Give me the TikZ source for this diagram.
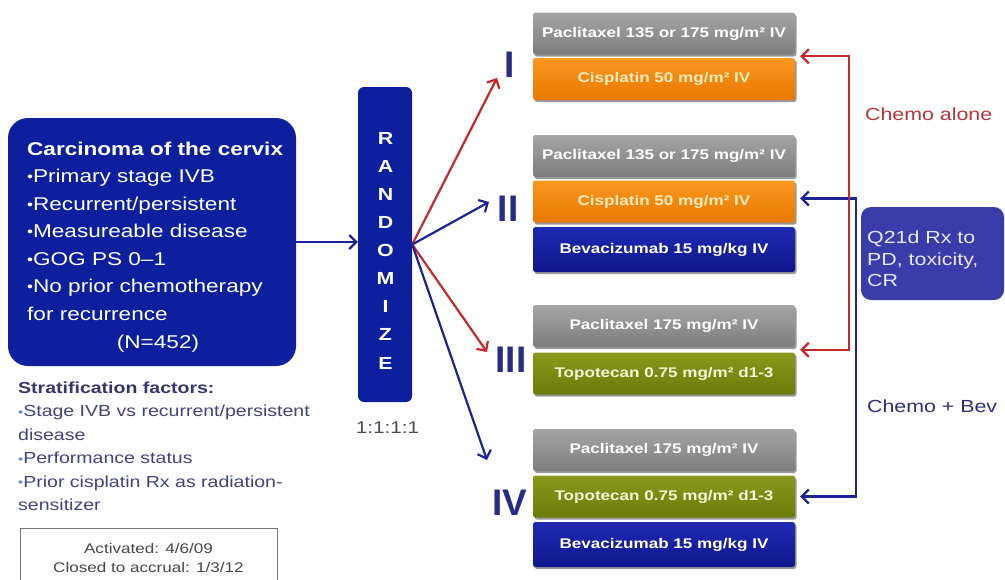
\documentclass[tikz,border=0pt]{standalone}
\usepackage{fontspec}
\setmainfont[FakeStretch=1.22]{Liberation Sans}
\newfontfamily\romfont{Liberation Sans}
\usetikzlibrary{arrows.meta,calc,shadows}
\definecolor{mainblue}{RGB}{14,31,158}
\definecolor{romnavy}{RGB}{40,44,130}
\definecolor{arrred}{RGB}{200,40,45}
\definecolor{arrblue}{RGB}{28,35,150}
\definecolor{qblue}{RGB}{58,60,170}
\definecolor{strattitle}{RGB}{52,54,110}
\definecolor{stratbody}{RGB}{64,68,125}
\definecolor{bulc}{RGB}{100,140,210}
\definecolor{ratiogray}{RGB}{75,75,90}
\definecolor{acttext}{RGB}{70,70,70}
\definecolor{actborder}{RGB}{120,120,120}
\definecolor{chemored}{RGB}{180,55,55}
\definecolor{chemoblue}{RGB}{46,49,112}
\definecolor{orangetext}{RGB}{255,236,190}
\definecolor{greentext}{RGB}{245,245,215}
\newcommand\mybul{\raisebox{0.05em}{\scalebox{0.75}{•}}}
\tikzset{
  drugbox/.style={minimum width=262pt, minimum height=42pt, inner sep=0pt,
    rounded corners=2.5pt, font=\fontsize{14}{16}\selectfont\bfseries,
    drop shadow={shadow xshift=1.5pt, shadow yshift=-2pt, opacity=0.4, fill=black}},
  graydrug/.style={drugbox, top color={rgb,255:red,165;green,165;blue,165}, bottom color={rgb,255:red,125;green,125;blue,125}, text=white},
  orangedrug/.style={drugbox, top color={rgb,255:red,250;green,152;blue,32}, bottom color={rgb,255:red,232;green,120;blue,0}, text=orangetext},
  bluedrug/.style={drugbox, top color={rgb,255:red,32;green,42;blue,178}, bottom color={rgb,255:red,15;green,22;blue,140}, text=white},
  greendrug/.style={drugbox, top color={rgb,255:red,138;green,153;blue,28}, bottom color={rgb,255:red,108;green,122;blue,10}, text=greentext},
  romlabel/.style={anchor=base, text=romnavy, font=\romfont\bfseries\fontsize{37}{37}\selectfont, inner sep=0pt},
  barb/.tip={Straight Barb[length=7pt,width=14pt]},
  redarr/.style={draw=arrred, line width=2.2pt, -barb},
  bluearr/.style={draw=arrblue, line width=2.2pt, -barb},
  redbracket/.style={draw=arrred, line width=2.2pt, barb-barb},
  bluebracket/.style={draw=arrblue, line width=2.2pt, barb-barb},
}
\begin{document}
\begin{tikzpicture}[x=1pt,y=-1pt]
\useasboundingbox (0,0) rectangle (1005,579);

% eligibility box
\node[fill=mainblue, rounded corners=20pt, minimum width=288pt, minimum height=248pt, inner sep=0pt] (elig) at (152,242) {};
\node[anchor=north west, inner sep=0pt, align=left, text=white, font=\fontsize{18.5}{27.5}\selectfont] (eligtext) at (27,141.5)
 {{\bfseries Carcinoma of the cervix}\\ \mybul Primary stage IVB\\ \mybul Recurrent/persistent\\ \mybul Measureable disease\\ \mybul GOG PS 0–1\\ \mybul No prior chemotherapy\\ for recurrence};
\node[anchor=base, inner sep=0pt, text=white, font=\fontsize{18.5}{27.5}\selectfont] (n452) at (158,348) {(N=452)};

% stratification
\node[anchor=north west, inner sep=0pt, align=left, text=stratbody, font=\fontsize{16}{23.5}\selectfont] (strat) at (18,381.5)
 {{\bfseries\color{strattitle}Stratification factors:}\\ {\color{bulc}\mybul}Stage IVB vs recurrent/persistent\\ disease\\ {\color{bulc}\mybul}Performance status\\ {\color{bulc}\mybul}Prior cisplatin Rx as radiation-\\ sensitizer};

% activated box
\node[draw=actborder, line width=1.2pt, anchor=north west, minimum width=257pt, minimum height=70pt, inner sep=0pt] (act) at (20,528) {};
\node[anchor=north, inner sep=0pt, align=center, text=acttext, font=\fontsize{14}{19}\selectfont] (acttxt) at (148.5,543) {Activated: 4/6/09\\ Closed to accrual: 1/3/12};

% randomize
\node[fill=mainblue, rounded corners=6pt, minimum width=54pt, minimum height=315pt, inner sep=0pt] (rand) at (385,244.5) {};
\node[anchor=north, inner sep=0pt, align=center, text=white, font=\fontsize{17.5}{28.1}\selectfont\bfseries] (randtxt) at (385.5,132) {R\\A\\N\\D\\O\\M\\I\\Z\\E};
\node[anchor=base, inner sep=0pt, text=ratiogray, font=\fontsize{17}{18}\selectfont] (ratio) at (387.5,433) {1:1:1:1};

\draw[bluearr] (elig.east) -- (elig.east -| rand.west);

% roman labels
\node[romlabel] (rI) at (510,77) {I};
\node[romlabel] (rII) at (508,221) {II};
\node[romlabel] (rIII) at (511,372) {III};
\node[romlabel] (rIV) at (510,515) {IV};

\coordinate (tI) at (497,78);
\coordinate (tII) at (489,202);
\coordinate (tIII) at (487,352);
\coordinate (tIV) at (487,460);
\draw[redarr] (rand.east) -- (tI);
\draw[bluearr] (rand.east) -- (tII);
\draw[redarr] (rand.east) -- (tIII);
\draw[bluearr] (rand.east) -- (tIV);

% drug boxes
\node[graydrug] (p1) at (664,33.5) {Paclitaxel 135 or 175 mg/m² IV};
\node[orangedrug] (c1) at (664,79) {Cisplatin 50 mg/m² IV};
\node[graydrug] (p2) at (664,156) {Paclitaxel 135 or 175 mg/m² IV};
\node[orangedrug] (c2) at (664,201.5) {Cisplatin 50 mg/m² IV};
\node[bluedrug, minimum height=45pt] (b2) at (664,249.5) {Bevacizumab 15 mg/kg IV};
\node[graydrug] (p3) at (664,326) {Paclitaxel 175 mg/m² IV};
\node[greendrug] (t3) at (664,373.5) {Topotecan 0.75 mg/m² d1-3};
\node[graydrug] (p4) at (664,450) {Paclitaxel 175 mg/m² IV};
\node[greendrug] (t4) at (664,496.5) {Topotecan 0.75 mg/m² d1-3};
\node[bluedrug, minimum height=45pt] (b4) at (664,544.5) {Bevacizumab 15 mg/kg IV};

% brackets
\coordinate (aI) at ($(p1.south east)!0.5!(c1.north east)+(5,0)$);
\coordinate (aIII) at ($(p3.south east)!0.5!(t3.north east)+(5,0)$);
\coordinate (aII) at ($(c2.east)+(5,-3)$);
\coordinate (aIV) at ($(t4.east)+(5,0)$);
\coordinate (rbI) at (849,0 |- aI);
\coordinate (rbIII) at (849,0 |- aIII);
\coordinate (bbII) at (856,0 |- aII);
\coordinate (bbIV) at (856,0 |- aIV);
\draw[bluebracket] (aII) -- (bbII) -- (bbIV) -- (aIV);
\draw[redbracket] (aI) -- (rbI) -- (rbIII) -- (aIII);

\node[anchor=base west, inner sep=0pt, text=chemored, font=\fontsize{17.5}{20}\selectfont] (calone) at (865,120) {Chemo alone};
\node[anchor=base west, inner sep=0pt, text=chemoblue, font=\fontsize{17.5}{20}\selectfont] (cbev) at (867,412) {Chemo + Bev};

\node[fill=qblue, rounded corners=10pt, minimum width=143pt, minimum height=93pt, inner sep=0pt] (q) at (932.5,253.5) {};
\node[anchor=north west, inner sep=0pt, align=left, text={rgb,255:red,230;green,232;blue,255}, font=\fontsize{17.5}{21.5}\selectfont] (qtxt) at (867,231) {Q21d Rx to\\ PD, toxicity,\\ CR};
\end{tikzpicture}
\end{document}
